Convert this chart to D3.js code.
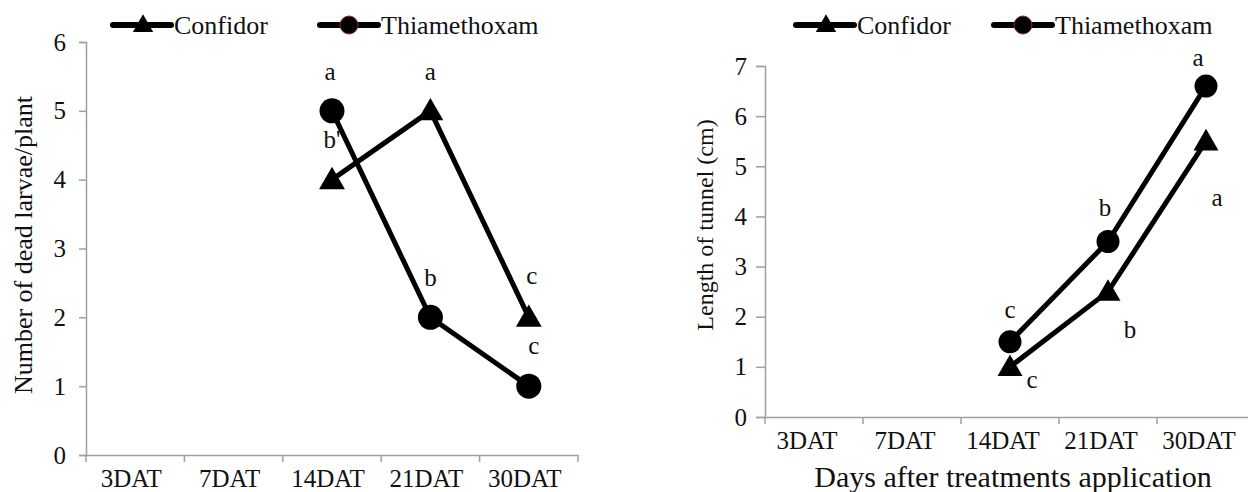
<!DOCTYPE html>
<html>
<head>
<meta charset="utf-8">
<script src="https://cdn.jsdelivr.net/npm/d3@7"></script>
<style>
  body { margin: 0; background: #fff; }
  svg { display: block; font-family: "Liberation Serif", "Times New Roman", serif; }
  .axis path, .axis line { stroke: #a0a0a0; stroke-width: 1.5; }
  .axis text { fill: #111; }
</style>
</head>
<body>
<svg id="chart" width="1248" height="492"></svg>
<script>
// data
const days = ["3DAT", "7DAT", "14DAT", "21DAT", "30DAT"];
const seriesNames = ["Confidor", "Thiamethoxam"];

const larvaeConfidor = [null, null, 4, 5, 2];
const larvaeThiamethoxam = [null, null, 5, 2, 1];
const larvaeConfidorLetters = [null, null, "b'", "a", "c"];
const larvaeThiamethoxamLetters = [null, null, "a", "b", "c"];
const larvaeTicks = [0, 1, 2, 3, 4, 5, 6];

const tunnelConfidor = [null, null, 1, 2.5, 5.5];
const tunnelThiamethoxam = [null, null, 1.5, 3.5, 6.6];
const tunnelConfidorLetters = [null, null, "c", "b", "a"];
const tunnelThiamethoxamLetters = [null, null, "c", "b", "a"];
const tunnelTicks = [0, 1, 2, 3, 4, 5, 6, 7];

const svg = d3.select("#chart");
const serif = '"Liberation Serif", "Times New Roman", serif';

function panel(opt) {
    const x = d3.scaleBand().domain(days).range(opt.xRange);
    const y = d3.scaleLinear().domain(d3.extent(opt.ticks)).range(opt.yRange);
    const g = svg.append("g");

    // y axis
    g.append("g")
        .attr("class", "axis")
        .attr("transform", `translate(${opt.xRange[0]},0)`)
        .call(d3.axisLeft(y).tickValues(opt.ticks).tickFormat(d3.format("d"))
            .tickSize(opt.tickLen).tickSizeOuter(opt.tickLen).tickPadding(opt.tickPad))
        .attr("font-family", serif)
        .call(a => a.selectAll("text").style("font-size", "25px"));

    // x axis: labels centred in bands, ticks on band edges
    const xa = g.append("g")
        .attr("class", "axis")
        .attr("transform", `translate(0,${opt.yRange[0]})`)
        .call(d3.axisBottom(x).tickSize(0).tickSizeOuter(0).tickPadding(opt.xLabelPad))
        .attr("font-family", serif);
    xa.selectAll("text").style("font-size", "25px").attr("dx", opt.xLabelShift);
    xa.selectAll(".edge")
        .data(days.map(d => x(d)).concat([x(days[days.length - 1]) + x.bandwidth()]))
        .join("line")
        .attr("class", "edge")
        .attr("x1", d => d).attr("x2", d => d)
        .attr("y1", 0).attr("y2", 7);

    // y title
    g.append("text")
        .attr("transform", `translate(${opt.yTitleX},${opt.yTitleY}) rotate(-90)`)
        .attr("text-anchor", "middle")
        .style("font-size", opt.yTitleSize + "px")
        .style("fill", "#111")
        .text(opt.yTitle);

    if (opt.xTitle) {
        g.append("text")
            .attr("x", opt.xTitleX).attr("y", opt.xTitleY)
            .attr("text-anchor", "middle")
            .style("font-size", "30px")
            .style("fill", "#111")
            .text(opt.xTitle);
    }

    const cx = i => x(days[i]) + x.bandwidth() / 2;
    const line = d3.line()
        .defined(d => d != null)
        .x((d, i) => cx(i))
        .y(d => y(d));

    opt.series.forEach(s => {
        g.append("path")
            .datum(s.values)
            .attr("d", line)
            .attr("fill", "none")
            .attr("stroke", "#000")
            .attr("stroke-width", 5);
    });

    opt.series.forEach(s => {
        const pts = s.values.map((v, i) => ({ v, i, t: s.letters[i] })).filter(p => p.v != null);
        if (s.shape === "circle") {
            g.selectAll(null).data(pts).join("circle")
                .attr("cx", p => cx(p.i)).attr("cy", p => y(p.v))
                .attr("r", opt.r).attr("fill", "#000");
        } else {
            g.selectAll(null).data(pts).join("path")
                .attr("transform", p => `translate(${cx(p.i)},${y(p.v) + 2})`)
                .attr("d", d3.symbol().type(d3.symbolTriangle).size(opt.triSize))
                .attr("fill", "#000");
        }
        g.selectAll(null).data(pts).join("text")
            .attr("x", p => cx(p.i) + s.offsets[p.i][0])
            .attr("y", p => y(p.v) + s.offsets[p.i][1])
            .attr("text-anchor", "middle")
            .attr("dominant-baseline", "central")
            .style("font-size", "25px")
            .style("fill", "#111")
            .text(p => p.t);
    });

    // legend
    const lg = g.append("g").attr("transform", `translate(0,${opt.legendY})`);
    opt.legendX.forEach((lx, k) => {
        lg.append("line")
            .attr("x1", lx).attr("x2", lx + 58)
            .attr("stroke", "#000").attr("stroke-width", 6).attr("stroke-linecap", "round");
        if (k === 0) {
            lg.append("path")
                .attr("transform", `translate(${lx + 30},1)`)
                .attr("d", d3.symbol().type(d3.symbolTriangle).size(180))
                .attr("fill", "#000");
        } else {
            lg.append("circle")
                .attr("cx", lx + 29).attr("r", 9)
                .attr("fill", "#000").attr("stroke", "#8b2a2a").attr("stroke-width", 1);
        }
        lg.append("text")
            .attr("x", lx + 61).attr("y", 0)
            .attr("dominant-baseline", "central")
            .style("font-size", "26px")
            .style("fill", "#111")
            .text(seriesNames[k]);
    });
}

panel({
    xRange: [86, 578],
    yRange: [455, 42],
    ticks: larvaeTicks,
    tickLen: 7, tickPad: 13, xLabelPad: 14, xLabelShift: -4,
    r: 12.5, triSize: 290,
    yTitle: "Number of dead larvae/plant",
    yTitleX: 32, yTitleY: 245, yTitleSize: 26,
    legendX: [113, 320], legendY: 25,
    series: [
        { shape: "triangle", values: larvaeConfidor, letters: larvaeConfidorLetters,
          offsets: [null, null, [0, -40], [0, -39], [3, -42]] },
        { shape: "circle", values: larvaeThiamethoxam, letters: larvaeThiamethoxamLetters,
          offsets: [null, null, [-2, -39], [0, -40], [5, -41]] }
    ]
});

panel({
    xRange: [765, 1255],
    yRange: [417, 66],
    ticks: tunnelTicks,
    tickLen: 9, tickPad: 9, xLabelPad: 14, xLabelShift: -7,
    r: 11.5, triSize: 270,
    yTitle: "Length of tunnel (cm)",
    yTitleX: 713, yTitleY: 225, yTitleSize: 24,
    xTitle: "Days after treatments application",
    xTitleX: 1013, xTitleY: 487,
    legendX: [796, 994], legendY: 25,
    series: [
        { shape: "triangle", values: tunnelConfidor, letters: tunnelConfidorLetters,
          offsets: [null, null, [22, 13], [22, 38], [11, 56]] },
        { shape: "circle", values: tunnelThiamethoxam, letters: tunnelThiamethoxamLetters,
          offsets: [null, null, [0, -32], [-3, -34], [-8, -29]] }
    ]
});
</script>
</body>
</html>
